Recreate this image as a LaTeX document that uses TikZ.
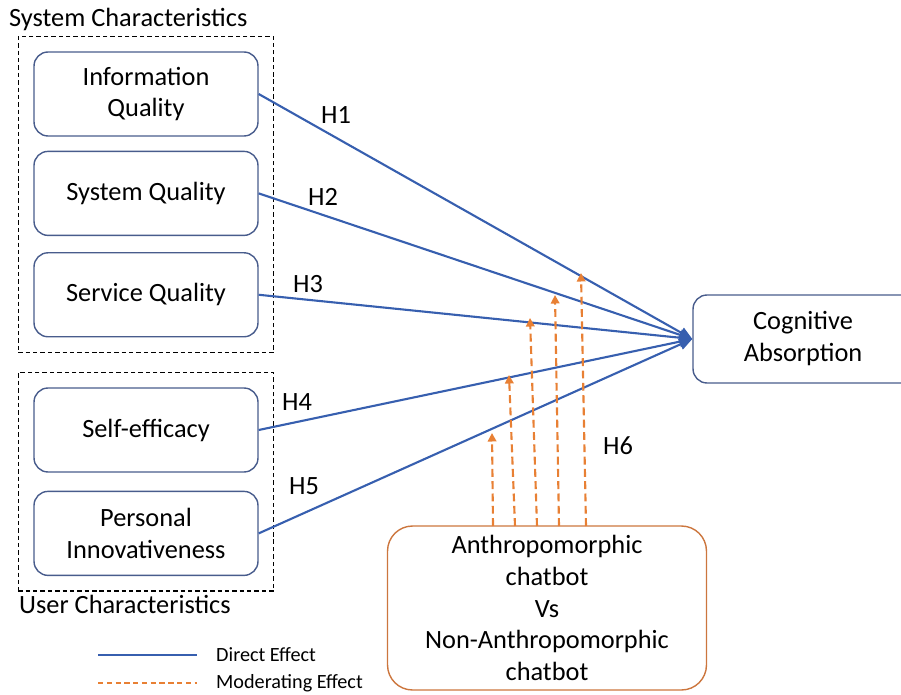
\documentclass[tikz,border=0pt]{standalone}
\usepackage{fontspec}
\setmainfont{Carlito}
\usetikzlibrary{positioning,fit,arrows.meta}
\definecolor{boxblue}{RGB}{72,92,140}
\definecolor{lineblue}{RGB}{55,95,175}
\definecolor{modorange}{RGB}{232,128,52}
\definecolor{boxorange}{RGB}{204,118,62}

\begin{document}
\begin{tikzpicture}[x=0.02cm, y=-0.02cm, font=\fontsize{15}{18}\selectfont, node distance={0.3cm},
    var/.style = {draw=boxblue, line width=0.8pt, rounded corners=0.28cm, minimum width=4.48cm, minimum height=1.68cm, align=center, inner sep=2pt},
    groupbox/.style = {draw, line width=0.9pt, dash pattern=on 2.5pt off 1.7pt, inner sep=0.3cm},
    directline/.style = {draw=lineblue, line width=1.2pt, -{Triangle[length=2.6mm,width=2.2mm]}},
    modline/.style = {draw=modorange, line width=1.2pt, dash pattern=on 4.5pt off 2.5pt, -{Triangle[length=1.7mm,width=1.7mm]}}]
    \useasboundingbox (0,0) rectangle (901,695);
    % system characteristics
    \node[var] (iq) at (146,94) {Information\\Quality};
    \node[var] (sq) [below=0.28cm of iq] {System Quality};
    \node[var] (svq) [below=0.32cm of sq] {Service Quality};
    \node[groupbox, fit=(iq)(svq)] (sysbox) {};
    \node[anchor=west] (systitle) at (3,19) {System Characteristics};
    % user characteristics
    \node[var] (se) at (146,430) {Self-efficacy};
    \node[var] (pi) [below=0.36cm of se] {Personal\\Innovativeness};
    \node[groupbox, fit=(se)(pi)] (userbox) {};
    \node[anchor=west] (usertitle) at (13,604) {User Characteristics};
    % outcome and moderator (outcome box runs past the right edge)
    \node[var, minimum width=6cm, minimum height=1.76cm] (ca) at (843,339) {\begin{tabular}{@{}c@{}}Cognitive\\Absorption\end{tabular}\hspace*{1.6cm}};
    \node[var, draw=boxorange, minimum width=6.38cm, minimum height=3.28cm, rounded corners=0.5cm] (ac) at (547,608) {Anthropomorphic\\chatbot\\Vs\\Non-Anthropomorphic\\chatbot};
    % direct effects
    \draw[directline] (iq.east) -- (ca.west);
    \draw[directline] (sq.east) -- (ca.west);
    \draw[directline] (svq.east) -- (ca.west);
    \draw[directline] (se.east) -- (ca.west);
    \draw[directline] (pi.east) -- (ca.west);
    \node (h1) at (336,115) {H1};
    \node (h2) at (323,197) {H2};
    \node (h3) at (308,284) {H3};
    \node (h4) at (297,402) {H4};
    \node (h5) at (304,486) {H5};
    \node (h6) at (618,446) {H6};
    % moderating effects
    \coordinate (t1) at (492,433);
    \coordinate (t2) at (509,375);
    \coordinate (t3) at (530,318);
    \coordinate (t4) at (555,295);
    \coordinate (t5) at (581,273);
    \coordinate (b1) at (493,526);
    \coordinate (b2) at (515,526);
    \coordinate (b3) at (537,526);
    \coordinate (b4) at (559,526);
    \coordinate (b5) at (586,526);
    \draw[modline] (b1) -- (t1);
    \draw[modline] (b2) -- (t2);
    \draw[modline] (b3) -- (t3);
    \draw[modline] (b4) -- (t4);
    \draw[modline] (b5) -- (t5);
    % legend
    \coordinate (dl0) at (98,655);
    \coordinate (dl1) at (197,655);
    \coordinate (ml0) at (98,683);
    \coordinate (ml1) at (197,683);
    \draw[lineblue, line width=1.2pt] (dl0) -- (dl1);
    \draw[modorange, line width=1.2pt, dash pattern=on 3pt off 2pt] (ml0) -- (ml1);
    \node[anchor=west, font=\fontsize{11.5}{14}\selectfont] (dlab) at (210,655) {Direct Effect};
    \node[anchor=west, font=\fontsize{11.5}{14}\selectfont] (mlab) at (210,683) {Moderating Effect};
\end{tikzpicture}
\end{document}
